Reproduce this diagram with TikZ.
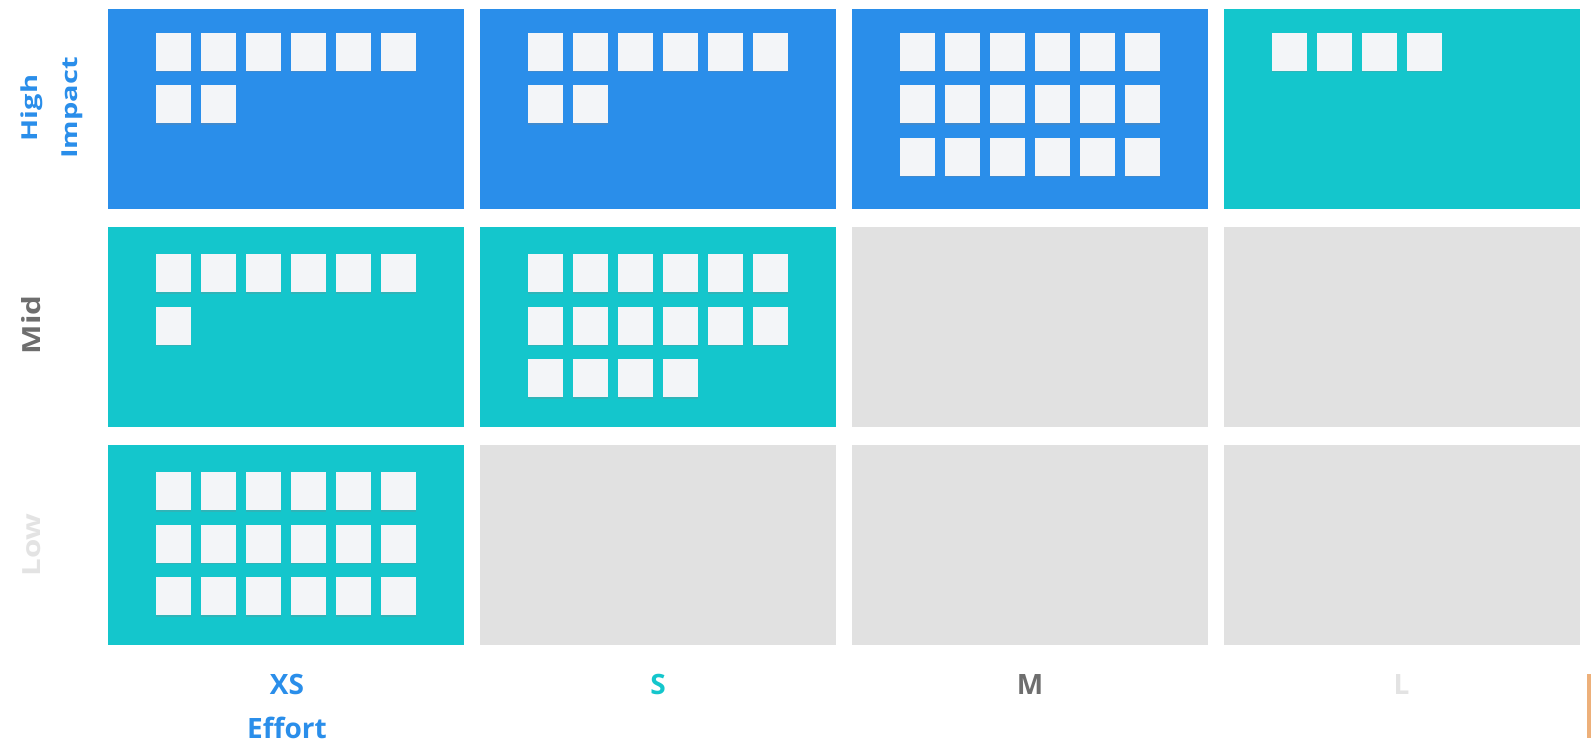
\documentclass[tikz,border=0pt]{standalone}
\usepackage{fontspec}
\setmainfont{Open Sans}
\usetikzlibrary{positioning,shadows}

\definecolor{hiblue}{HTML}{2A8EEA}
\definecolor{midteal}{HTML}{14C6CC}
\definecolor{logray}{HTML}{E1E1E1}
\definecolor{notewhite}{HTML}{F3F5F8}
\definecolor{midtext}{HTML}{6E6E6E}
\definecolor{lowtext}{HTML}{E3E3E3}
\definecolor{edgeorange}{HTML}{EDB07A}

\newcommand{\stickies}[3]{%
  \foreach \k in {1,...,#2} {
    \pgfmathtruncatemacro{\nr}{(\k-1)/6}
    \pgfmathtruncatemacro{\nc}{mod(\k-1,6)}
    \node[note] (#1n\k) at ([xshift={48pt+\nc*44.9pt}, yshift={-(#3pt+\nr*52.5pt)}]#1.north west) {};
  }%
}

\begin{document}
\begin{tikzpicture}[
  x=1pt, y=-1pt,
  cell/.style={anchor=north west, minimum width=356pt, minimum height=200pt,
               inner sep=0pt, outer sep=0pt},
  hi/.style={cell, fill=hiblue}, mi/.style={cell, fill=midteal}, lo/.style={cell, fill=logray},
  note/.style={anchor=north west, fill=notewhite, minimum width=35pt, minimum height=38pt,
               inner sep=0pt, outer sep=0pt,
               drop shadow={opacity=0.25, shadow xshift=0pt, shadow yshift=-1.8pt}},
  rowlbl/.style={inner sep=0pt, align=center, rotate=90},
  collbl/.style={anchor=base, inner sep=0pt, font=\bfseries\fontsize{28}{34}\selectfont}
]
\fill[white] (0,0) rectangle (1591,753);
\useasboundingbox (0,0) rectangle (1591,753);

\node[hi] (c11) at (108,9)   {};
\node[hi] (c12) at (480,9)   {};
\node[hi] (c13) at (852,9)   {};
\node[mi] (c14) at (1224,9)  {};
\node[mi] (c21) at (108,227) {};
\node[mi] (c22) at (480,227) {};
\node[lo] (c23) at (852,227) {};
\node[lo] (c24) at (1224,227) {};
\node[mi] (c31) at (108,445) {};
\node[lo] (c32) at (480,445) {};
\node[lo] (c33) at (852,445) {};
\node[lo] (c34) at (1224,445) {};

\stickies{c11}{8}{23.5}
\stickies{c12}{8}{23.5}
\stickies{c13}{18}{23.5}
\stickies{c14}{4}{23.5}
\stickies{c21}{7}{27}
\stickies{c22}{16}{27}
\stickies{c31}{18}{27}

\node[rowlbl, xscale=1.32, text=hiblue, font=\bfseries\fontsize{22}{40}\selectfont] (lhigh) at (52,108) {High\\Impact};
\node[rowlbl, xscale=1.25, text=midtext, font=\bfseries\fontsize{25}{28}\selectfont] (lmid) at (31,325) {Mid};
\node[rowlbl, xscale=1.25, text=lowtext, font=\bfseries\fontsize{25}{28}\selectfont] (llow) at (32,545) {Low};

\node[collbl, text=hiblue]   (lxs) at (287,694)    {XS};
\node[collbl, text=midteal]  (ls)  at (658,694)    {S};
\node[collbl, text=midtext]  (lm)  at (1030,694)   {M};
\node[collbl, text=lowtext]  (ll)  at (1401.5,694) {L};
\node[collbl, text=hiblue]   (leffort) at (287,738) {Effort};

\fill[edgeorange] (1587,674) rectangle (1591,738);
\end{tikzpicture}
\end{document}
